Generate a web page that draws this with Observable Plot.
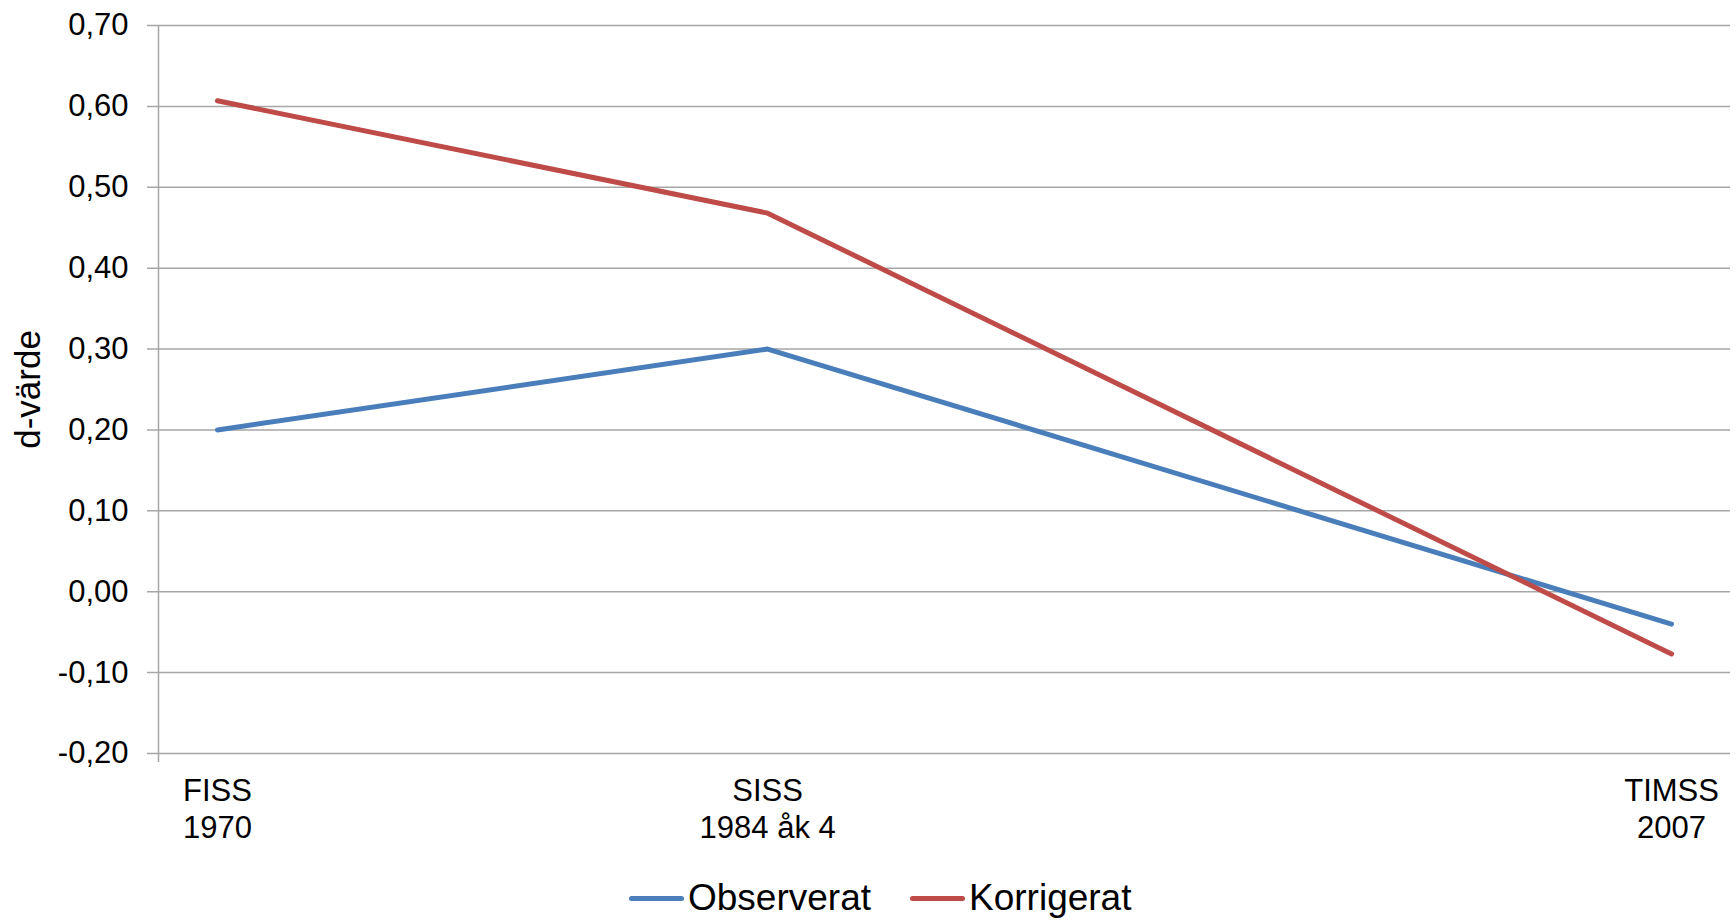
<!DOCTYPE html>
<html>
<head>
<meta charset="utf-8">
<script src="https://cdn.jsdelivr.net/npm/d3@7"></script>
<script src="https://cdn.jsdelivr.net/npm/@observablehq/plot@0.6"></script>
<style>
  html, body { margin: 0; padding: 0; background: #fff; }
  body { width: 1736px; height: 923px; position: relative; overflow: hidden; font-family: "Liberation Sans", Arial, sans-serif; }
  #chart { position: absolute; left: 0; top: 0; }
  #legend { position: absolute; left: 629px; top: 879px; display: flex; align-items: center; font-size: 37px; line-height: 37px; color: #000; white-space: nowrap; }
  .item { display: flex; align-items: center; margin-right: 39px; }
  .sw { width: 55px; height: 5px; border-radius: 3px; margin-right: 4px; margin-top: 2px; }
</style>
</head>
<body>
<div id="chart"></div>
<div id="legend"></div>
<script>
const years = [1970, 1984, 2007];
const tickLabels = ["FISS\n1970", "SISS\n1984 åk 4", "TIMSS\n2007"];
const observerat = [0.20, 0.30, -0.04];
const korrigerat = [0.607, 0.468, -0.077];
const seriesNames = ["Observerat", "Korrigerat"];
const seriesColors = ["#4A7EBB", "#BE4B48"];
const yTicks = [-0.2, -0.1, 0, 0.1, 0.2, 0.3, 0.4, 0.5, 0.6, 0.7];
const yTitle = "d-värde";

const rows = [];
years.forEach((yr, i) => {
  rows.push({year: yr, value: observerat[i], series: seriesNames[0]});
  rows.push({year: yr, value: korrigerat[i], series: seriesNames[1]});
});

const fmt = d3.formatLocale({decimal: ",", thousands: " ", grouping: [3], currency: ["", ""], minus: "-"}).format(".2f");
const labelOf = new Map(years.map((y, i) => [y, tickLabels[i]]));

const chart = Plot.plot({
  width: 1736,
  height: 850,
  marginLeft: 158,
  marginRight: 6,
  marginTop: 25,
  marginBottom: 97,
  style: {fontFamily: "Liberation Sans, Arial, sans-serif", fontSize: "31px", color: "#000", background: "#fff"},
  x: {domain: [1968.5, 2008.5]},
  y: {domain: [-0.2, 0.7]},
  color: {domain: seriesNames, range: seriesColors},
  marks: [
    Plot.ruleY(yTicks, {stroke: "#a6a6a6", strokeWidth: 1.5, insetLeft: -11}),
    Plot.ruleX([1968.5], {y1: 0.7, y2: -0.2, stroke: "#a6a6a6", strokeWidth: 1.5, insetBottom: -9}),
    Plot.axisY({ticks: yTicks, tickFormat: fmt, tickSize: 0, tickPadding: 30, fontSize: 31, label: null}),
    Plot.axisX({ticks: years, tickFormat: d => labelOf.get(d), tickSize: 0, tickPadding: 22, fontSize: 31, lineHeight: 1.17, label: null}),
    Plot.text([yTitle], {frameAnchor: "left", textAnchor: "middle", dx: -130, rotate: -90, fontSize: 35, fill: "#000"}),
    Plot.line(rows, {x: "year", y: "value", stroke: "series", strokeWidth: 5, strokeLinecap: "round", strokeLinejoin: "round"})
  ]
});
document.getElementById("chart").appendChild(chart);

const legend = document.getElementById("legend");
seriesNames.forEach((name, i) => {
  const item = document.createElement("div");
  item.className = "item";
  const sw = document.createElement("div");
  sw.className = "sw";
  sw.style.background = seriesColors[i];
  const t = document.createElement("span");
  t.textContent = name;
  item.appendChild(sw);
  item.appendChild(t);
  legend.appendChild(item);
});
</script>
</body>
</html>
